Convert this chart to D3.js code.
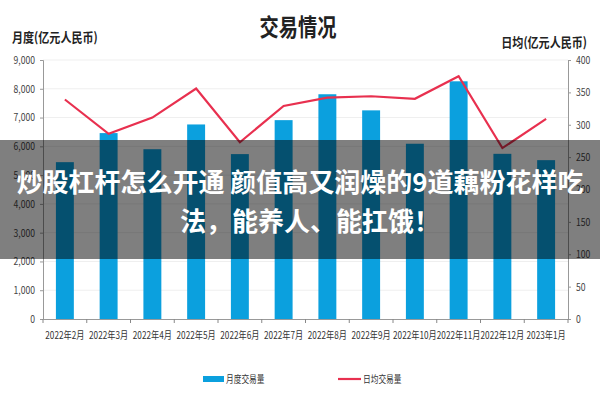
<!DOCTYPE html>
<html><head><meta charset="utf-8">
<script src="https://cdn.jsdelivr.net/npm/d3@7"></script>
<style>body{margin:0;background:#fff}svg{display:block}text{font-family:"Noto Sans CJK SC","Noto Sans",sans-serif}</style>
</head><body>
<svg id="c" width="600" height="400"></svg>
<script>
const categories = ["2022年2月","2022年3月","2022年4月","2022年5月","2022年6月","2022年7月","2022年8月","2022年9月","2022年10月","2022年11月","2022年12月","2023年1月"];
const monthly = [5450,6460,5900,6760,5730,6910,7810,7250,6090,8260,5740,5520];
const daily = [339,286,311,356,273,329,342,344,340,375,264,309];
const leftTicks = [0,1000,2000,3000,4000,5000,6000,7000,8000,9000];
const rightTicks = [0,50,100,150,200,250,300,350,400];
const title = "交易情况";
const leftTitle = "月度(亿元人民币)";
const rightTitle = "日均(亿元人民币)";
const legendNames = ["月度交易量","日均交易量"];
const bannerLines = ["炒股杠杆怎么开通 颜值高又润燥的9道藕粉花样吃","法，能养人、能扛饿！"];

const svg = d3.select("#c");
const L = 43, R = 568, T = 60, B = 319;
const x = d3.scaleBand().domain(categories).range([L, R]).paddingInner(0.59).paddingOuter(0.295);
const yL = d3.scaleLinear().domain([0, 9000]).range([B, T]);
const yR = d3.scaleLinear().domain([0, 400]).range([B, T]);

function squeeze(sel, k) {
  sel.each(function () {
    const w = this.getComputedTextLength();
    this.setAttribute("textLength", w * k);
    this.setAttribute("lengthAdjust", "spacingAndGlyphs");
  });
}

// grid
svg.append("g").selectAll("line").data(leftTicks.slice(1)).join("line")
  .attr("x1", L).attr("x2", R).attr("y1", d => yL(d)).attr("y2", d => yL(d))
  .attr("stroke", "#efefef").attr("stroke-width", 1);

// bars
svg.append("g").selectAll("rect").data(monthly).join("rect")
  .attr("x", (d, i) => x(categories[i])).attr("width", x.bandwidth())
  .attr("y", d => yL(d)).attr("height", d => B - yL(d))
  .attr("fill", "#0ba0de");

// line
const line = d3.line().x((d, i) => x(categories[i]) + x.bandwidth() / 2).y(d => yR(d));
svg.append("path").datum(daily).attr("d", line).attr("fill", "none")
  .attr("stroke", "#e8304f").attr("stroke-width", 2.2).attr("stroke-linejoin", "miter");

// axes
const axL = d3.axisLeft(yL).tickValues(leftTicks).tickFormat(d3.format(",")).tickSize(3).tickPadding(5);
const gL = svg.append("g").attr("transform", `translate(${L},0)`).call(axL);
const axR = d3.axisRight(yR).tickValues(rightTicks).tickSize(3).tickPadding(5);
const gR = svg.append("g").attr("transform", `translate(${R},0)`).call(axR);
const axB = d3.axisBottom(x).tickSize(0).tickPadding(13);
const gB = svg.append("g").attr("transform", `translate(0,${B})`).call(axB);
// bottom ticks between categories
svg.append("g").selectAll("line").data(d3.range(categories.length + 1)).join("line")
  .attr("x1", i => L + i * x.step()).attr("x2", i => L + i * x.step())
  .attr("y1", B).attr("y2", B + 4).attr("stroke", "#888");
[gL, gR, gB].forEach(g => {
  g.select(".domain").attr("stroke", "#999");
  g.selectAll(".tick line").attr("stroke", "#999");
  g.selectAll("text").attr("fill", "#444").attr("font-size", 10.5);
});
gB.selectAll("text").attr("fill", "#333");
squeeze(gL.selectAll("text"), 0.82);
squeeze(gR.selectAll("text"), 0.82);
squeeze(gB.selectAll("text"), 0.78);

// titles
squeeze(svg.append("text").attr("x", 298).attr("y", 36).attr("text-anchor", "middle")
  .attr("font-size", 24).attr("font-weight", "bold").attr("fill", "#222").text(title), 0.8);
squeeze(svg.append("text").attr("x", 12).attr("y", 42).attr("font-size", 13).attr("font-weight", "bold").attr("fill", "#222").text(leftTitle), 0.85);
squeeze(svg.append("text").attr("x", 587).attr("y", 47).attr("text-anchor", "end").attr("font-size", 13).attr("font-weight", "bold").attr("fill", "#222").text(rightTitle), 0.85);

// legend
const lg = svg.append("g");
lg.append("rect").attr("x", 203).attr("y", 376).attr("width", 21).attr("height", 6).attr("fill", "#0ba0de");
squeeze(lg.append("text").attr("x", 226).attr("y", 383).attr("font-size", 10).attr("fill", "#333").text(legendNames[0]), 0.77);
lg.append("line").attr("x1", 338).attr("x2", 361).attr("y1", 379).attr("y2", 379).attr("stroke", "#e8304f").attr("stroke-width", 2.2);
squeeze(lg.append("text").attr("x", 363).attr("y", 383).attr("font-size", 10).attr("fill", "#333").text(legendNames[1]), 0.77);

// banner overlay
svg.append("rect").attr("x", 0).attr("y", 140).attr("width", 600).attr("height", 119).attr("fill", "rgba(0,0,0,0.5)");
svg.append("g").selectAll("text").data(bannerLines).join("text")
  .attr("x", (d, i) => i === 0 ? 300 : 310).attr("y", (d, i) => 192 + i * 39).attr("text-anchor", "middle")
  .attr("font-size", 26).attr("font-weight", "bold").attr("fill", "#fff").text(d => d);
</script>
</body></html>
